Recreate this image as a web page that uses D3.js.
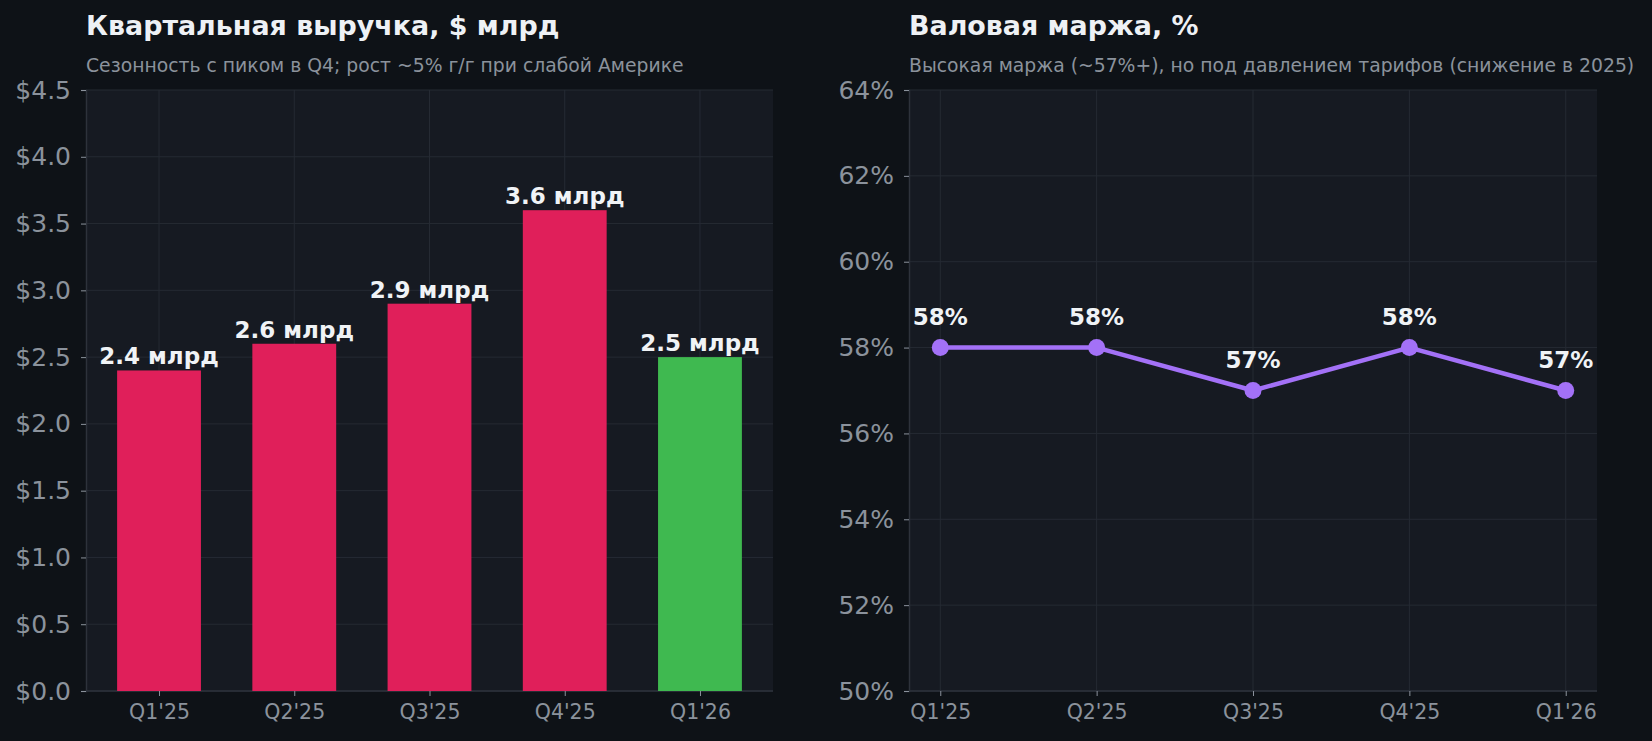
<!DOCTYPE html>
<html><head><meta charset="utf-8">
<script src="https://cdn.jsdelivr.net/npm/d3@7/dist/d3.min.js"></script>
<style>
html,body{margin:0;padding:0;background:#0e1217;}
svg{display:block;font-family:"DejaVu Sans",sans-serif;}
</style></head>
<body>
<script>
// ---- data ----
const quarters = ["Q1'25","Q2'25","Q3'25","Q4'25","Q1'26"];
const revenue = [2.4, 2.6, 2.9, 3.6, 2.5];
const revenueColors = ["#e01f5a","#e01f5a","#e01f5a","#e01f5a","#3fb950"];
const revenueTicks = [0,0.5,1.0,1.5,2.0,2.5,3.0,3.5,4.0,4.5];
const margin = [58, 58, 57, 58, 57];
const marginTicks = [50,52,54,56,58,60,62,64];
const titles = ["Квартальная выручка, $ млрд", "Валовая маржа, %"];
const subtitles = ["Сезонность с пиком в Q4; рост ~5% г/г при слабой Америке",
                   "Высокая маржа (~57%+), но под давлением тарифов (снижение в 2025)"];

const W = 1652, H = 741;
const C = {bg:"#0e1217", panel:"#161a22", grid:"#252a33", spine:"#2d323b",
           title:"#eef1f5", sub:"#8b929c", tick:"#8b929c", purple:"#a371f7", label:"#f0f3f6"};

const svg = d3.select("body").append("svg").attr("width",W).attr("height",H);
svg.append("rect").attr("width",W).attr("height",H).attr("fill",C.bg);

function panel(x0,x1,y0,y1,xs,ys,yTicks,yFmt,title,sub){
  const g = svg.append("g");
  g.append("rect").attr("x",x0).attr("y",y0).attr("width",x1-x0).attr("height",y1-y0).attr("fill",C.panel);
  // grid
  g.selectAll(".hg").data(yTicks).join("line")
    .attr("x1",x0).attr("x2",x1).attr("y1",d=>ys(d)).attr("y2",d=>ys(d))
    .attr("stroke",C.grid).attr("stroke-width",1);
  g.selectAll(".vg").data(d3.range(quarters.length)).join("line")
    .attr("x1",d=>xs(d)).attr("x2",d=>xs(d)).attr("y1",y0).attr("y2",y1)
    .attr("stroke",C.grid).attr("stroke-width",1);
  // axes
  const ya = d3.axisLeft(ys).tickValues(yTicks).tickFormat(yFmt).tickSize(5).tickPadding(10);
  const yg = g.append("g").attr("transform",`translate(${x0},0)`).call(ya);
  yg.select(".domain").attr("stroke",C.spine).attr("stroke-width",1.5);
  yg.selectAll(".tick line").attr("stroke",C.tick);
  yg.selectAll(".tick text").attr("fill",C.tick).attr("font-size",25).attr("font-family","DejaVu Sans");
  const xa = d3.axisBottom(xs).tickValues(d3.range(quarters.length)).tickFormat(i=>quarters[i]).tickSize(5).tickPadding(8);
  const xg = g.append("g").attr("transform",`translate(0,${y1})`).call(xa);
  xg.select(".domain").attr("stroke",C.spine).attr("stroke-width",1.5).attr("d",`M${x0},0H${x1}`);
  xg.selectAll(".tick line").attr("stroke",C.tick);
  xg.selectAll(".tick text").attr("fill",C.tick).attr("font-size",20.5).attr("font-family","DejaVu Sans");
  svg.append("text").attr("x",x0).attr("y",35).attr("fill",C.title).attr("font-size",26.9)
    .attr("font-weight","bold").text(title);
  svg.append("text").attr("x",x0).attr("y",72).attr("fill",C.sub).attr("font-size",18.8).text(sub);
  return g;
}

// ---- left: revenue bars ----
const L = {x0:86, x1:773, y0:90, y1:691};
const xL = d3.scaleLinear().domain([-0.54,4.54]).range([L.x0,L.x1]);
const yL = d3.scaleLinear().domain([0,4.5]).range([L.y1,L.y0]);
const gL = panel(L.x0,L.x1,L.y0,L.y1,xL,yL,revenueTicks,d=>"$"+d3.format(".1f")(d),titles[0],subtitles[0]);
const bw = 0.62;
gL.selectAll(".bar").data(revenue).join("rect")
  .attr("x",(d,i)=>xL(i-bw/2)).attr("width",(d,i)=>xL(i+bw/2)-xL(i-bw/2))
  .attr("y",d=>yL(d)).attr("height",d=>yL(0)-yL(d)).attr("fill",(d,i)=>revenueColors[i]);
gL.selectAll(".bl").data(revenue).join("text")
  .attr("x",(d,i)=>xL(i)).attr("y",d=>yL(d)-6).attr("text-anchor","middle")
  .attr("fill",C.label).attr("font-size",23).attr("font-weight","bold")
  .text(d=>d3.format(".1f")(d)+" млрд");

// ---- right: margin line ----
const R = {x0:909, x1:1597, y0:90, y1:691};
const xR = d3.scaleLinear().domain([-0.2,4.2]).range([R.x0,R.x1]);
const yR = d3.scaleLinear().domain([50,64]).range([R.y1,R.y0]);
const gR = panel(R.x0,R.x1,R.y0,R.y1,xR,yR,marginTicks,d=>d+"%",titles[1],subtitles[1]);
gR.append("path").datum(margin)
  .attr("d",d3.line().x((d,i)=>xR(i)).y(d=>yR(d)))
  .attr("fill","none").attr("stroke",C.purple).attr("stroke-width",4.5).attr("stroke-linejoin","round");
gR.selectAll(".pt").data(margin).join("circle")
  .attr("cx",(d,i)=>xR(i)).attr("cy",d=>yR(d)).attr("r",8.5).attr("fill",C.purple);
gR.selectAll(".pl").data(margin).join("text")
  .attr("x",(d,i)=>xR(i)).attr("y",d=>yR(d)-23).attr("text-anchor","middle")
  .attr("fill",C.label).attr("font-size",23).attr("font-weight","bold")
  .text(d=>d+"%");
</script>
</body></html>
